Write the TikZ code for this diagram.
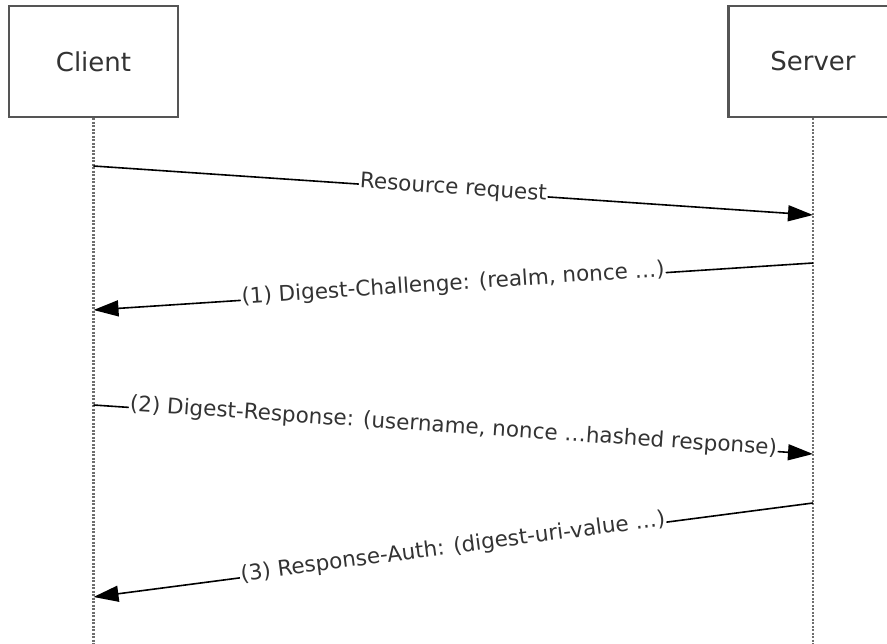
\documentclass[tikz,border=0pt]{standalone}
\usepackage{fontspec}
\setmainfont{DejaVu Sans}
\usetikzlibrary{arrows.meta}
\definecolor{boxgray}{HTML}{555555}
\definecolor{textgray}{HTML}{333333}
\definecolor{linegray}{HTML}{6E6E6E}

\begin{document}
\begin{tikzpicture}[x=1pt,y=-1pt,
    actor/.style={draw=boxgray, line width=2.3pt, fill=white,
      minimum width=169pt, minimum height=111pt,
      font=\fontsize{26}{30}\selectfont, text=textgray},
    lifeline/.style={draw=linegray, line width=2.2pt,
      dash pattern=on 2pt off 1.5pt},
    msg/.style={draw=black, line width=1.6pt,
      -{Triangle[length=25pt,width=16pt]}},
    lbl/.style={fill=white, inner xsep=1pt, inner ysep=0pt,
      text height=0.7em, text depth=0pt,
      font=\fontsize{21.5}{25}\selectfont, text=textgray, sloped}]
        \useasboundingbox (0,0) rectangle (887,644);

        % Actors
        \node[actor] (client) at (93.5,61.5) {Client};
        \node[actor] (server) at (813,61.5) {Server};

        % Lifelines
        \coordinate (cend) at (93.5,644);
        \coordinate (send) at (813,644);
        \draw[lifeline] (client.south) -- (cend);
        \draw[lifeline] (server.south) -- (send);

        % Message end points
        \coordinate (c1) at (93.5,166);
        \coordinate (s1) at (813,215);
        \coordinate (s2) at (813,263);
        \coordinate (c2) at (93.5,310);
        \coordinate (c3) at (93.5,405);
        \coordinate (s3) at (813,454);
        \coordinate (s4) at (813,503);
        \coordinate (c4) at (93.5,597);

        % Messages
        \draw[msg] (c1) -- node[lbl] {Resource request} (s1);
        \draw[msg] (s2) -- node[lbl] {(1) Digest-Challenge: (realm, nonce …)} (c2);
        \draw[msg] (c3) -- node[lbl] {(2) Digest-Response: (username, nonce …hashed response)} (s3);
        \draw[msg] (s4) -- node[lbl] {(3) Response-Auth: (digest-uri-value …)} (c4);
      \end{tikzpicture}
\end{document}
